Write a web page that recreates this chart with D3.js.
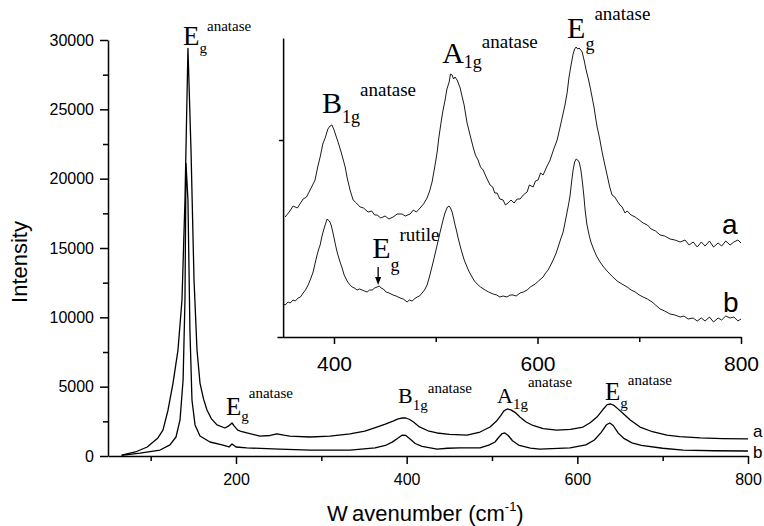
<!DOCTYPE html>
<html>
<head>
<meta charset="utf-8">
<script src="https://cdn.jsdelivr.net/npm/d3@7"></script>
<style>
  body { margin: 0; background: #fff; }
  svg { display: block; }
</style>
</head>
<body>
<div class="chart"></div>
<script>
/* spectra: [wavenumber, intensity] */
const mainA = [
  [66, 70], [82, 290], [96, 650], [101.5, 940], [108.5, 1300], [114.4, 1870], [120.3, 3300],
  [126.2, 5260], [132, 7640], [136.7, 11250], [140.2, 18460], [143.7, 29400], [147.3, 22000],
  [150.8, 12700], [154.3, 7640], [157.8, 5260], [162, 4100], [166, 3320], [171, 2700], [177.7, 2240],
  [187, 2020], [191, 2150], [195.3, 2380], [198, 2150], [202, 1870], [207, 1750], [212.7, 1660],
  [228, 1440], [240, 1480], [248, 1590], [256, 1500], [263, 1440], [286.7, 1370], [310, 1440],
  [333.6, 1590], [351, 1800], [365, 2090], [375, 2300], [384, 2520], [390, 2680], [395, 2740],
  [399, 2740], [403, 2650], [408, 2450], [415, 2100], [425, 1820], [435.6, 1660], [450, 1560],
  [470.7, 1510], [486, 1730], [497.7, 2090], [505, 2500], [510, 2900], [514, 3250], [518, 3390],
  [522, 3330], [527, 3150], [533, 2800], [540, 2450], [548, 2200], [560, 1980], [576, 1870],
  [592, 1920], [606.7, 2090], [615, 2400], [623, 2810], [630, 3350], [635, 3700], [639, 3750],
  [643, 3650], [648, 3380], [654, 3050], [662, 2600], [673.5, 2090], [688, 1750], [705, 1510],
  [720, 1400], [744, 1300], [770, 1250], [800, 1230]
];
const mainB = [
  [66, 40], [87.5, 200], [111, 430], [122.6, 800], [129.7, 1370], [134.4, 2600], [138, 5480],
  [140.2, 11250], [141.4, 21100], [143.7, 18460], [146, 9080], [148.4, 4040], [152, 2240],
  [157.8, 1440], [169.5, 1010], [183.6, 800], [191.8, 650], [195.3, 870], [200, 650],
  [212.7, 580], [251, 500], [286.7, 430], [333.6, 430], [363, 580], [375, 760], [383, 1000],
  [390, 1300], [395, 1510], [399, 1480], [404, 1230], [410, 900], [418, 700], [435.6, 500],
  [448, 560], [462.5, 580], [486, 580], [497, 800], [503.5, 1010], [508, 1350], [512, 1620],
  [515, 1660], [519, 1480], [524, 1100], [532, 760], [545, 570], [556, 500], [591.5, 580],
  [610, 800], [620, 1150], [628, 1700], [634, 2250], [638, 2380], [642, 2200], [648, 1650],
  [655, 1250], [664, 950], [675, 760], [700, 560], [724, 430], [760, 380], [800, 360]
];
const insetA = [
  [352, 1200], [356, 1250], [359.8, 1310], [364, 1290], [369.7, 1380], [373, 1400], [376.5, 1470],
  [379, 1520], [381.4, 1570], [384, 1700], [386.4, 1800], [389, 1930], [391.3, 1990], [394, 2080],
  [396.2, 2110], [398, 2120], [400.1, 2070], [402, 2010], [404, 1950], [407, 1850], [411, 1700],
  [413, 1590], [415.8, 1470], [418.8, 1370], [422, 1340], [425.7, 1300], [429, 1290], [433.5, 1250],
  [437, 1260], [440, 1220], [442.4, 1220], [446, 1190], [450.2, 1210], [454, 1180], [458.1, 1200],
  [462, 1230], [466.9, 1230], [470, 1210], [474.8, 1230], [478, 1270], [481, 1250], [484.6, 1290],
  [488, 1330], [491.5, 1390], [494, 1460], [496.4, 1550], [499, 1700], [501.4, 1850], [503, 1990],
  [505.3, 2150], [507, 2260], [509.2, 2370], [511, 2480], [513.2, 2550], [514.5, 2630], [516.1, 2620],
  [517.5, 2580], [519, 2600], [521, 2570], [522.5, 2530], [524, 2490], [526, 2400], [527.9, 2320],
  [529.5, 2220], [530.8, 2140], [533, 2050], [536.7, 1900], [539, 1820], [541.6, 1770], [544, 1700],
  [546.6, 1670], [550, 1590], [553.4, 1520], [556, 1500], [558, 1440], [560.3, 1440], [563, 1380],
  [566.2, 1370], [568.5, 1320], [571.1, 1340], [574, 1370], [577, 1340], [580, 1380], [582.9, 1380],
  [586, 1420], [589.8, 1450], [592, 1520], [595.7, 1500], [598, 1560], [600.6, 1570], [603, 1640],
  [605.5, 1620], [609, 1700], [612.4, 1770], [616, 1880], [619.3, 1970], [622, 2090], [624.2, 2190],
  [627, 2320], [629.1, 2440], [631, 2600], [633, 2720], [635, 2830], [636.5, 2880], [638, 2900],
  [639.5, 2880], [640.9, 2890], [642.5, 2870], [643.9, 2850], [646, 2760], [647.8, 2670], [650, 2580],
  [651.7, 2500], [654, 2380], [655.7, 2290], [657, 2200], [658.6, 2100], [661, 1990], [663.5, 1850],
  [666, 1730], [668.4, 1620], [671, 1500], [673.3, 1420], [676, 1400], [678.3, 1360], [681, 1320],
  [683.2, 1300], [686, 1240], [688.1, 1260], [692, 1220], [696, 1200], [700, 1170], [703.8, 1140],
  [708, 1120], [711.7, 1080], [716, 1060], [720.5, 1020], [725, 1010], [730.3, 980], [735, 970],
  [740.2, 950], [745, 970], [749, 920], [753, 950], [757, 900], [761, 950], [764.7, 910], [769, 960],
  [773, 900], [777.5, 940], [781, 910], [785, 960], [789.3, 920], [793, 950], [797, 970], [800, 940]
];
const insetB = [
  [350, 330], [352, 320], [354.9, 350], [357, 340], [359.8, 370], [362, 360], [364.7, 390], [367, 400],
  [369.7, 440], [372, 470], [374.6, 520], [377, 580], [379.5, 650], [381.5, 740], [383.4, 820],
  [385, 880], [386.4, 920], [388, 1000], [389.3, 1050], [391, 1110], [392.3, 1150], [393.3, 1180],
  [394.2, 1170], [395.5, 1160], [397.2, 1120], [398.6, 1060], [400.1, 990], [401.5, 920], [403.1, 850],
  [404.5, 800], [406, 750], [408, 690], [410, 620], [411.5, 590], [412.9, 560], [415, 530], [417.8, 500],
  [420, 490], [422.7, 470], [425, 480], [427.6, 470], [430, 460], [432.6, 450], [435, 470], [437.5, 470],
  [440, 490], [442.4, 500], [444.5, 510], [446.3, 490], [448.5, 480], [451.2, 450], [454, 440],
  [458.1, 420], [461, 410], [465, 390], [468, 380], [471.9, 350], [474, 370], [476.8, 360], [479, 380],
  [481.7, 400], [484, 410], [486.6, 440], [489, 470], [491.5, 520], [493.5, 590], [495.5, 670],
  [497, 730], [498.4, 790], [500, 860], [501.4, 920], [503, 990], [504.3, 1050], [506, 1120],
  [507.2, 1170], [508.8, 1230], [510.2, 1270], [511.5, 1300], [513.1, 1310], [514.5, 1290],
  [516.1, 1250], [517.5, 1190], [519, 1120], [520.5, 1060], [522, 990], [524, 910], [525.9, 840],
  [528, 770], [530.8, 700], [533, 650], [535.7, 600], [538, 560], [540.7, 530], [544, 500],
  [548.5, 470], [552, 450], [556.4, 430], [560, 420], [563, 400], [566.2, 410], [570, 400], [573, 420],
  [576, 420], [579, 410], [582.9, 440], [586, 450], [589.8, 470], [593, 500], [597.7, 530], [601, 560],
  [605.5, 600], [608, 640], [610.4, 670], [613, 720], [615.4, 770], [618, 830], [620.3, 900],
  [622.5, 970], [625.2, 1050], [627, 1140], [629.1, 1250], [630.8, 1340], [632.1, 1420], [633.5, 1550],
  [635, 1670], [636.5, 1750], [638, 1780], [639.5, 1770], [640.9, 1750], [642.5, 1680], [643.9, 1570],
  [645.5, 1420], [646.8, 1270], [648.5, 1130], [650.7, 1020], [652.5, 950], [654.7, 890], [658, 810],
  [661.5, 750], [665, 700], [668.4, 660], [673, 610], [678.3, 560], [683, 530], [688.1, 500], [692, 470],
  [696, 450], [700, 420], [703.8, 400], [708, 380], [712.6, 350], [716, 320], [720.5, 280], [725, 260],
  [730.3, 230], [735, 220], [740.2, 200], [744, 210], [748, 180], [753, 190], [757, 160], [761, 190],
  [764.7, 160], [769, 200], [773, 150], [777.5, 190], [781, 170], [785, 210], [789.3, 190], [793, 200],
  [797, 160], [800, 180]
];

/* ticks */
const mainXMajor = [200, 400, 600, 800];
const mainXMinor = [100, 300, 500, 700];
const mainYMajor = [0, 5000, 10000, 15000, 20000, 25000, 30000];
const mainYMinor = [2500, 7500, 12500, 17500, 22500, 27500];
const insetXMajor = [400, 600, 800];
const insetXMinor = [500, 700];
const insetYTicks = [1970];

/* peak labels: anchor in data units */
const mainLabels = [
  { wn: 137.9, val: 29630, base: "E", sub: "g", sup: "anatase", size: 27, subDy: 8, supDy: -14 },
  { wn: 188.3, val: 2956, base: "E", sub: "g", sup: "anatase", size: 25, subDy: 6, supDy: -17 },
  { wn: 389.9, val: 3821, base: "B", sub: "1g", sup: "anatase", size: 22, subDy: 7, supDy: -10 },
  { wn: 505.9, val: 3821, base: "A", sub: "1g", sup: "anatase", size: 22, subDy: 6, supDy: -16 },
  { wn: 632.4, val: 4038, base: "E", sub: "g", sup: "anatase", size: 25, subDy: 8, supDy: -15 }
];
const insetLabels = [
  { wn: 388.3, val: 2240, base: "B", sub: "1g", sup: "anatase", size: 30, subDy: 10, supDy: -17 },
  { wn: 506.3, val: 2740, base: "A", sub: "1g", sup: "anatase", size: 30, subDy: 5, supDy: -15 },
  { wn: 629.1, val: 2990, base: "E", sub: "g", sup: "anatase", size: 30, subDy: 12, supDy: -18 },
  { wn: 437.5, val: 790, base: "E", sub: "g", sup: "rutile", size: 30, subDy: 13, supDy: -17 }
];
const rutileArrow = { wn: 443.4, from: 700, to: 520 };
const mainSeriesNames = [{ name: "a", wn: 805.9, val: 1400 }, { name: "b", wn: 805.9, val: -150 }];
const insetSeriesNames = [{ name: "a", wn: 781.3, val: 1030 }, { name: "b", wn: 782.4, val: 250 }];

const width = 764, height = 526;
const sans = "'Liberation Sans', Arial, Helvetica, sans-serif";
const serif = "'Liberation Serif', 'Times New Roman', serif";

const svg = d3.select(".chart").append("svg")
    .attr("width", width)
    .attr("height", height);

svg.append("rect").attr("width", width).attr("height", height).attr("fill", "#fff");

// main scales
const x = d3.scaleLinear().domain([50, 800]).range([108, 748]);
const y = d3.scaleLinear().domain([0, 30000]).range([456, 40]);

// inset scales
const xIn = d3.scaleLinear().domain([344, 800]).range([277, 741]);
const yIn = d3.scaleLinear().domain([0, 2990]).range([337, 38]);

const lineMain = d3.line().x(d => x(d[0])).y(d => y(d[1]));
const lineInset = d3.line().x(d => xIn(d[0])).y(d => yIn(d[1]));

// spectra
[mainA, mainB].forEach(s => {
    svg.append("path").attr("d", lineMain(s))
        .attr("fill", "none").attr("stroke", "#000").attr("stroke-width", 1.3)
        .attr("stroke-linejoin", "round");
});
[insetA, insetB].forEach(s => {
    svg.append("path").attr("d", lineInset(s))
        .attr("fill", "none").attr("stroke", "#000").attr("stroke-width", 0.9)
        .attr("stroke-linejoin", "round");
});

function styleAxis(g, fontSize) {
    g.selectAll("path.domain").attr("stroke", "#000").attr("stroke-width", 1.5);
    g.selectAll(".tick line").attr("stroke", "#000").attr("stroke-width", 1.5);
    g.selectAll(".tick text").attr("fill", "#000")
        .style("font-family", sans).style("font-size", fontSize + "px");
}

// main axes
const gx = svg.append("g").attr("transform", "translate(0,456)")
    .call(d3.axisBottom(x).tickValues(mainXMajor).tickSize(8).tickSizeOuter(0)
        .tickPadding(10).tickFormat(d3.format("d")));
styleAxis(gx, 16);
const gxm = svg.append("g").attr("transform", "translate(0,456)")
    .call(d3.axisBottom(x).tickValues(mainXMinor).tickSize(5).tickFormat(""));
gxm.select("path.domain").remove();
styleAxis(gxm, 16);

const gy = svg.append("g").attr("transform", "translate(108,0)")
    .call(d3.axisLeft(y).tickValues(mainYMajor).tickSize(8).tickSizeOuter(0)
        .tickPadding(6).tickFormat(d3.format("d")));
styleAxis(gy, 16);
const gym = svg.append("g").attr("transform", "translate(108,0)")
    .call(d3.axisLeft(y).tickValues(mainYMinor).tickSize(5).tickFormat(""));
gym.select("path.domain").remove();
styleAxis(gym, 16);

// inset axes
const ix = svg.append("g").attr("transform", "translate(0,337)")
    .call(d3.axisBottom(xIn).tickValues(insetXMajor).tickSize(7).tickSizeOuter(0)
        .tickPadding(12).tickFormat(d3.format("d")));
styleAxis(ix, 21);
const ixm = svg.append("g").attr("transform", "translate(0,337)")
    .call(d3.axisBottom(xIn).tickValues(insetXMinor).tickSize(5).tickFormat(""));
ixm.select("path.domain").remove();
styleAxis(ixm, 21);

const iy = svg.append("g").attr("transform", `translate(${xIn(350)},0)`)
    .call(d3.axisLeft(yIn).tickValues(insetYTicks).tickSize(4).tickSizeOuter(0).tickFormat(""));
styleAxis(iy, 21);

// axis titles
svg.append("text")
    .attr("transform", "translate(27,262) rotate(-90)")
    .attr("text-anchor", "middle")
    .style("font-family", sans).style("font-size", "22px")
    .text("Intensity");

const xt = svg.append("text")
    .attr("x", 327).attr("y", 521)
    .style("font-family", sans).style("font-size", "22px");
xt.append("tspan").text("W");
xt.append("tspan").attr("dx", 5).text("avenumber (cm");
xt.append("tspan").attr("dy", -10).style("font-size", "13px").text("-1");
xt.append("tspan").attr("dy", 10).text(")");

// peak labels
function addPeakLabel(d, sx, sy, subSize, supSize) {
    const t = svg.append("text")
        .attr("x", sx(d.wn)).attr("y", sy(d.val))
        .style("font-family", serif).attr("fill", "#000");
    t.append("tspan").style("font-size", d.size + "px").text(d.base);
    t.append("tspan").attr("dy", d.subDy).style("font-size", subSize + "px").text(d.sub);
    t.append("tspan").attr("dy", d.supDy - d.subDy).style("font-size", supSize + "px").text(d.sup);
}
mainLabels.forEach(d => addPeakLabel(d, x, y, 15, 15));
insetLabels.forEach(d => addPeakLabel(d, xIn, yIn, 18, 19));

// arrow to the rutile shoulder
const ax = xIn(rutileArrow.wn);
const ay1 = yIn(rutileArrow.from), ay2 = yIn(rutileArrow.to);
svg.append("line").attr("x1", ax).attr("x2", ax).attr("y1", ay1).attr("y2", ay2 - 6)
    .attr("stroke", "#000").attr("stroke-width", 1.3);
svg.append("path")
    .attr("d", `M${ax - 3},${ay2 - 8} L${ax + 3},${ay2 - 8} L${ax},${ay2} Z`)
    .attr("fill", "#000");

// series names
mainSeriesNames.forEach(d => {
    svg.append("text").attr("x", x(d.wn)).attr("y", y(d.val))
        .style("font-family", sans).style("font-size", "17px").text(d.name);
});
insetSeriesNames.forEach(d => {
    svg.append("text").attr("x", xIn(d.wn)).attr("y", yIn(d.val))
        .style("font-family", sans).style("font-size", "28px").text(d.name);
});
</script>
</body>
</html>
